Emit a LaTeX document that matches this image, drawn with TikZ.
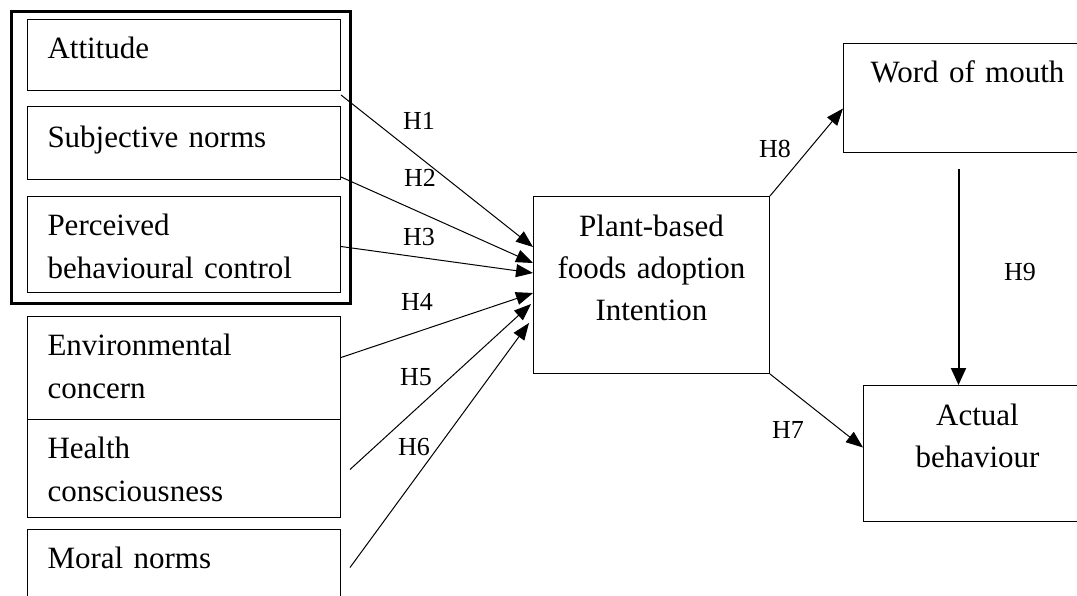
\documentclass[tikz,border=0pt]{standalone}
\usepackage{fontspec}
\setmainfont{Liberation Serif}
\usetikzlibrary{arrows.meta,calc}

\begin{document}
\begin{tikzpicture}[x=1pt,y=-1pt,
    varbox/.style={draw,line width=1pt,rectangle,inner sep=0pt,anchor=north west,text height=21pt,font=\fontsize{31}{43}\selectfont},
    leftbox/.style={varbox,minimum width=313pt,text width=273pt,align=left},
    midbox/.style={varbox,align=center,font=\fontsize{31}{42}\selectfont},
    hyp/.style={-{Triangle[length=17pt,width=13pt]},line width=1pt},
    hlabel/.style={font=\fontsize{26}{30}\selectfont,inner sep=0pt}]
    \clip (0,0) rectangle (1077,595);
    \node[draw,line width=3pt,minimum width=339pt,minimum height=292pt,anchor=north west] (tpb) at (10,10) {};
    \node[leftbox,minimum height=71pt,text depth=14pt] (att) at (27,19) {Attitude};
    \node[leftbox,minimum height=73pt,text depth=12pt] (sub) at (27,106) {Subjective norms};
    \node[leftbox,minimum height=96pt,text depth=39pt] (pbc) at (27,196) {Perceived\\behavioural control};
    \node[leftbox,minimum height=103pt,text depth=46pt] (env) at (27,316) {Environmental\\concern};
    \node[leftbox,minimum height=98pt,text depth=41pt] (hc) at (27,419) {Health\\consciousness};
    \node[leftbox,minimum height=71pt,text depth=14pt] (mn) at (27,529) {Moral norms};
    \node[midbox,minimum width=236pt,minimum height=177pt,text width=225pt,text depth=118pt] (pbi) at (533,196) {Plant-based\\foods adoption\\Intention};
    \node[midbox,minimum width=248pt,minimum height=109pt,text width=240pt,text depth=52pt] (wom) at (843,43) {Word of mouth};
    \node[midbox,minimum width=228pt,minimum height=136pt,text width=220pt,text depth=77pt] (ab) at (863,385) {Actual\\behaviour};

    \node[hlabel] (h1) at (419,121) {H1};
    \node[hlabel] (h2) at (420,178) {H2};
    \node[hlabel] (h3) at (419,237) {H3};
    \node[hlabel] (h4) at (417,302) {H4};
    \node[hlabel] (h5) at (416,377) {H5};
    \node[hlabel] (h6) at (414,447) {H6};
    \node[hlabel] (h7) at (788,430) {H7};
    \node[hlabel] (h8) at (775,149) {H8};
    \node[hlabel] (h9) at (1020,272) {H9};

    \draw[hyp] ($(att.south east)+(0,4)$) -- ($(pbi.north west)+(0,51)$);
    \draw[hyp] ($(sub.south east)+(0,-3)$) -- ($(pbi.north west)+(0,67)$);
    \draw[hyp] ($(pbc.east)+(0,2)$) -- ($(pbi.north west)+(0,77)$);
    \draw[hyp] ($(env.east)+(0,-10.5)$) -- ($(pbi.north west)+(0,97)$);
    \draw[hyp] ($(hc.east)+(9,1)$) -- ($(pbi.north west)+(-2,108)$);
    \draw[hyp] ($(mn.east)+(9,2.5)$) -- ($(pbi.north west)+(-4,127)$);
    \draw[hyp] (pbi.north east) -- ($(wom.west)+(0,10.5)$);
    \draw[hyp] (pbi.south east) -- ($(ab.west)+(0,-6)$);
    \coordinate (h9top) at ($(wom.south)+(-9,16)$);
    \draw[hyp,line width=2pt,-{Triangle[length=17pt,width=15pt]}] (h9top) -- (h9top |- ab.north);
\end{tikzpicture}
\end{document}
